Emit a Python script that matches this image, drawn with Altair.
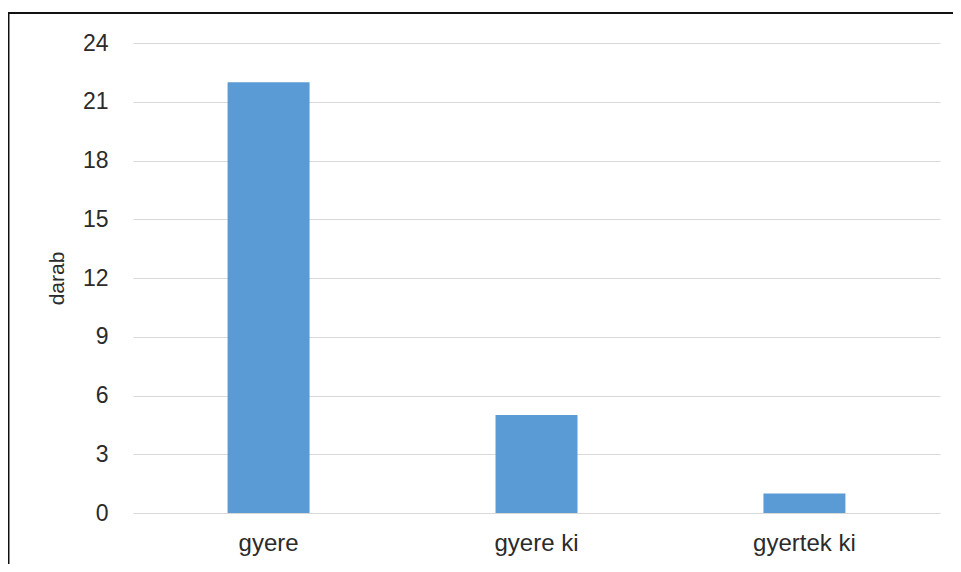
import altair as alt
import pandas as pd

categories = ["gyere", "gyere ki", "gyertek ki"]
values = [22, 5, 1]
y_ticks = [0, 3, 6, 9, 12, 15, 18, 21, 24]

df = pd.DataFrame({"kategoria": categories, "darab": values})

FONT = "Liberation Sans"
TEXT = "#2b2b2b"

bars = alt.Chart(df).mark_bar(color="#5b9bd5").encode(
    x=alt.X(
        "kategoria:N",
        sort=categories,
        title=None,
        scale=alt.Scale(paddingInner=0.694, paddingOuter=0.353),
        axis=alt.Axis(
            labelAngle=0,
            labelFont=FONT,
            labelFontSize=24,
            labelColor=TEXT,
            labelPadding=18,
            ticks=False,
            tickSize=0,
            domain=False,
            grid=False,
        ),
    ),
    y=alt.Y(
        "darab:Q",
        title="darab",
        scale=alt.Scale(domain=[0, 24], nice=False),
        axis=alt.Axis(
            values=y_ticks,
            labelFont=FONT,
            labelFontSize=23,
            labelColor=TEXT,
            labelPadding=25,
            ticks=False,
            tickSize=0,
            domain=False,
            grid=True,
            gridColor="#d9d9d9",
            gridWidth=1.2,
            titleFont=FONT,
            titleFontSize=21,
            titleFontWeight="normal",
            titleColor=TEXT,
            titlePadding=15,
        ),
    ),
)

frame_df = pd.DataFrame({"a": [0]})
top_line = alt.Chart(frame_df).mark_rule(color="#111111", strokeWidth=2).encode(
    x=alt.value(-126), x2=alt.value(850), y=alt.value(-30)
)
left_line = alt.Chart(frame_df).mark_rule(color="#111111", strokeWidth=2).encode(
    x=alt.value(-124.5), y=alt.value(-31), y2=alt.value(600)
)

chart = alt.layer(bars, top_line, left_line).properties(
    width=807,
    height=470,
    autosize=alt.AutoSizeParams(type="none"),
    padding={"left": 125, "top": 35, "right": 13, "bottom": 51},
    background="white",
).configure_view(stroke=None)

chart.save("out.html", embed_options={"renderer": "svg", "actions": False})
